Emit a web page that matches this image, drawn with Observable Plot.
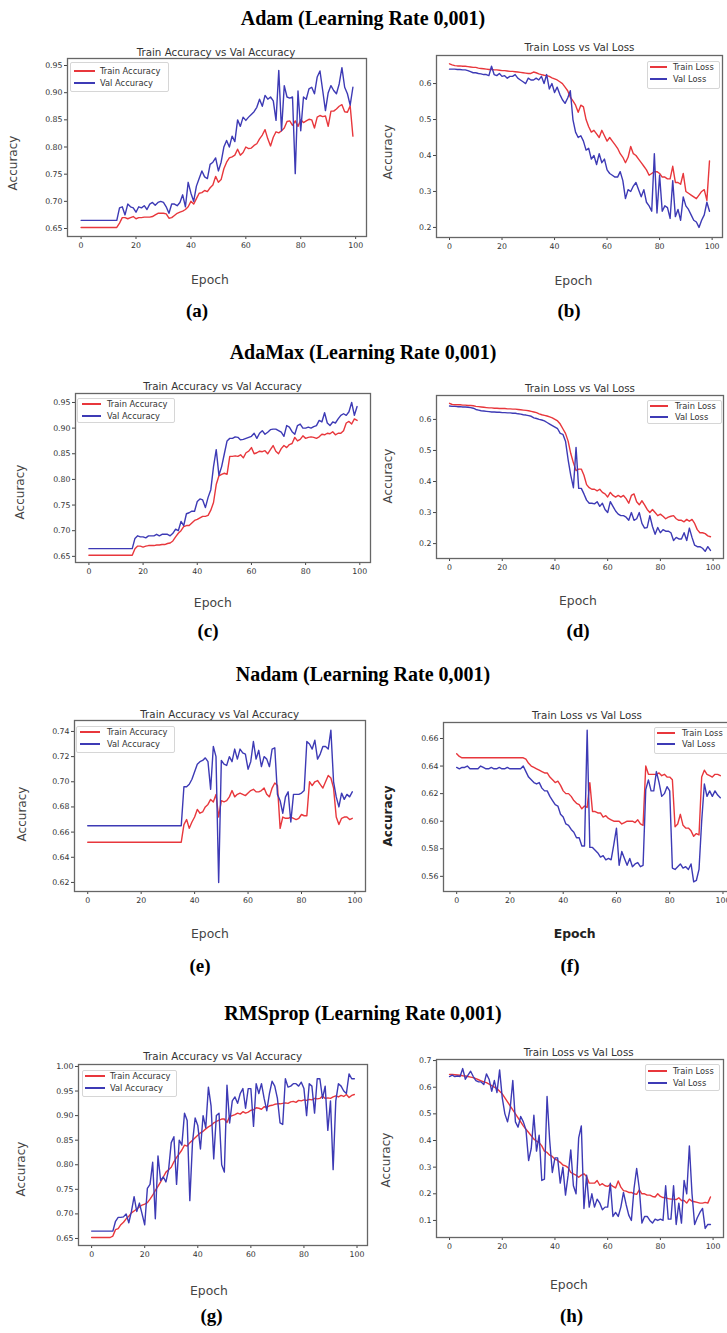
<!DOCTYPE html>
<html><head><meta charset="utf-8">
<script src="https://cdn.jsdelivr.net/npm/d3@7"></script>
<script src="https://cdn.jsdelivr.net/npm/@observablehq/plot@0.6"></script>
<style>
body{margin:0;background:#fff;}
#page{position:relative;width:727px;height:1333px;overflow:hidden;background:#fff;}
.t{position:absolute;white-space:nowrap;transform:translate(-50%,-50%);line-height:1;}
.head{font-family:"Liberation Serif","Times New Roman",serif;font-weight:bold;font-size:20px;color:#000;}
.sub{font-size:19px;}
.ctitle{font-family:"DejaVu Sans",sans-serif;font-size:10.3px;color:#333;}
.alab{font-family:"DejaVu Sans",sans-serif;font-size:12px;color:#444;}
.ylab{transform:translate(-50%,-50%) rotate(-90deg);}
.boldlab{font-weight:bold;color:#222;}
.legbox{position:absolute;border:1px solid #d6d6d6;border-radius:2px;background:rgba(255,255,255,0.85);}
.legline{position:absolute;height:2px;}
.legtxt{position:absolute;white-space:nowrap;font-family:"DejaVu Sans",sans-serif;font-size:8.3px;color:#333;transform:translateY(-50%);line-height:1;}
</style></head>
<body><div id="page"></div>
<script>
// ---- data (epochs 0..99) ----
const adamTrainAcc = [
.652,.652,.652,.652,.652,.652,.652,.652,.652,.652,
.652,.652,.652,.652,.660,.670,.670,.668,.670,.672,
.668,.670,.670,.671,.671,.671,.672,.675,.678,.678,
.678,.677,.669,.670,.674,.678,.680,.682,.685,.690,
.700,.695,.705,.715,.716,.720,.718,.725,.730,.746,
.735,.740,.760,.772,.780,.782,.785,.796,.785,.790,
.800,.797,.798,.803,.806,.815,.822,.832,.815,.802,
.818,.828,.826,.830,.835,.847,.848,.840,.848,.838,
.850,.845,.848,.851,.850,.835,.855,.858,.856,.857,
.838,.866,.866,.870,.875,.878,.865,.864,.876,.820];
const adamValAcc = [
.665,.665,.665,.665,.665,.665,.665,.665,.665,.665,
.665,.665,.665,.665,.688,.690,.675,.695,.690,.688,
.680,.690,.688,.692,.685,.695,.698,.693,.698,.700,
.698,.690,.678,.695,.695,.692,.698,.712,.690,.735,
.715,.700,.728,.742,.756,.745,.742,.768,.772,.780,
.756,.772,.800,.812,.800,.820,.810,.850,.838,.855,
.849,.855,.860,.865,.873,.888,.875,.895,.888,.892,
.885,.849,.941,.830,.913,.892,.890,.892,.751,.903,
.830,.892,.888,.907,.910,.898,.929,.940,.904,.867,
.900,.913,.904,.898,.916,.946,.910,.898,.877,.910];
const adamTrainLoss = [
.655,.652,.650,.649,.649,.648,.648,.647,.646,.645,
.645,.643,.642,.641,.640,.639,.639,.638,.638,.637,
.636,.636,.635,.634,.634,.633,.632,.631,.630,.629,
.628,.628,.632,.630,.627,.625,.623,.622,.620,.616,
.613,.610,.605,.600,.590,.580,.562,.552,.540,.520,
.540,.535,.500,.480,.465,.470,.460,.450,.470,.455,
.440,.450,.440,.430,.420,.405,.395,.380,.395,.425,
.405,.400,.390,.380,.370,.360,.345,.350,.355,.355,
.350,.340,.340,.335,.335,.370,.325,.325,.320,.350,
.300,.295,.290,.285,.280,.290,.300,.305,.275,.385];
const adamValLoss = [
.640,.640,.640,.639,.639,.638,.638,.636,.633,.630,
.630,.628,.627,.625,.625,.622,.648,.625,.622,.628,
.620,.622,.615,.620,.620,.625,.615,.610,.605,.600,
.615,.610,.610,.615,.610,.620,.600,.625,.585,.600,
.575,.590,.570,.555,.545,.560,.580,.500,.465,.450,
.455,.440,.415,.420,.390,.400,.375,.405,.380,.390,
.360,.350,.345,.340,.340,.355,.330,.280,.305,.300,
.315,.325,.305,.285,.305,.270,.260,.245,.405,.240,
.345,.245,.260,.255,.225,.330,.230,.250,.220,.285,
.260,.250,.235,.220,.215,.200,.220,.235,.270,.245];

const adamaxTrainAcc = [
.652,.652,.652,.652,.652,.652,.652,.652,.652,.652,
.652,.652,.652,.652,.652,.652,.652,.665,.670,.670,
.668,.670,.671,.671,.671,.672,.672,.673,.673,.675,
.676,.680,.688,.695,.700,.708,.710,.710,.715,.720,
.722,.725,.728,.728,.730,.740,.755,.790,.807,.810,
.812,.810,.845,.845,.846,.845,.848,.842,.852,.855,
.862,.850,.852,.855,.854,.856,.850,.858,.866,.855,
.850,.860,.866,.862,.868,.870,.882,.875,.878,.885,
.880,.882,.883,.882,.880,.883,.888,.887,.890,.889,
.893,.887,.890,.890,.895,.910,.913,.908,.918,.915];
const adamaxValAcc = [
.665,.665,.665,.665,.665,.665,.665,.665,.665,.665,
.665,.665,.665,.665,.665,.665,.665,.685,.690,.688,
.688,.686,.690,.690,.690,.693,.690,.693,.693,.693,
.690,.695,.703,.700,.718,.710,.733,.735,.738,.738,
.757,.762,.760,.745,.765,.780,.825,.858,.808,.825,
.850,.875,.880,.880,.883,.882,.877,.878,.880,.882,
.884,.890,.880,.890,.895,.888,.892,.897,.898,.898,
.895,.892,.884,.905,.902,.893,.888,.905,.908,.900,
.900,.902,.900,.903,.905,.915,.912,.930,.910,.905,
.912,.910,.918,.925,.928,.925,.932,.950,.925,.942];
const adamaxTrainLoss = [
.652,.648,.647,.647,.647,.646,.646,.645,.645,.644,
.642,.641,.640,.639,.638,.637,.637,.636,.636,.635,
.635,.635,.634,.634,.633,.633,.632,.631,.630,.629,
.628,.626,.624,.622,.618,.615,.613,.611,.608,.605,
.600,.595,.585,.570,.555,.530,.490,.460,.435,.440,
.440,.420,.390,.380,.375,.375,.370,.375,.365,.360,
.350,.365,.355,.350,.355,.350,.355,.345,.330,.355,
.360,.335,.325,.338,.325,.310,.300,.310,.300,.290,
.295,.288,.280,.285,.288,.290,.280,.275,.275,.270,
.278,.272,.278,.265,.245,.235,.235,.232,.225,.222];
const adamaxValLoss = [
.643,.642,.642,.641,.641,.640,.640,.639,.638,.636,
.632,.630,.628,.627,.626,.625,.624,.624,.623,.623,
.622,.622,.621,.621,.620,.620,.618,.617,.615,.614,
.612,.610,.605,.603,.600,.598,.595,.590,.585,.580,
.575,.570,.555,.552,.530,.470,.420,.380,.510,.378,
.378,.360,.340,.330,.330,.328,.335,.320,.330,.310,
.300,.335,.320,.305,.295,.290,.290,.285,.275,.300,
.275,.280,.300,.265,.250,.252,.290,.255,.230,.252,
.235,.245,.240,.240,.235,.210,.220,.215,.215,.235,
.210,.250,.220,.195,.190,.190,.185,.175,.190,.178];

const nadamTrainAcc = [
.652,.652,.652,.652,.652,.652,.652,.652,.652,.652,
.652,.652,.652,.652,.652,.652,.652,.652,.652,.652,
.652,.652,.652,.652,.652,.652,.652,.652,.652,.652,
.652,.652,.652,.652,.652,.652,.666,.670,.663,.668,
.672,.678,.675,.676,.680,.682,.686,.684,.690,.672,
.685,.684,.685,.688,.693,.688,.690,.691,.690,.689,
.691,.693,.694,.692,.692,.693,.695,.690,.688,.695,
.699,.697,.663,.672,.671,.671,.672,.671,.670,.671,
.674,.673,.673,.700,.697,.700,.701,.698,.695,.700,
.705,.703,.695,.672,.666,.671,.672,.672,.670,.671];
const nadamValAcc = [
.665,.665,.665,.665,.665,.665,.665,.665,.665,.665,
.665,.665,.665,.665,.665,.665,.665,.665,.665,.665,
.665,.665,.665,.665,.665,.665,.665,.665,.665,.665,
.665,.665,.665,.665,.665,.665,.696,.696,.698,.702,
.708,.714,.716,.717,.719,.716,.694,.728,.720,.620,
.717,.714,.713,.720,.716,.726,.718,.726,.723,.722,
.710,.716,.732,.718,.725,.712,.720,.718,.712,.726,
.727,.690,.685,.675,.688,.692,.668,.690,.690,.690,
.691,.693,.732,.730,.726,.733,.718,.722,.728,.728,
.726,.741,.700,.688,.680,.691,.686,.690,.688,.692];
const nadamTrainLoss = [
.649,.647,.646,.646,.646,.646,.646,.646,.646,.646,
.646,.646,.646,.646,.646,.646,.646,.646,.646,.646,
.646,.646,.646,.646,.646,.646,.645,.642,.640,.639,
.638,.637,.636,.635,.635,.632,.630,.628,.629,.626,
.622,.620,.620,.618,.615,.613,.612,.609,.611,.610,
.628,.607,.607,.606,.606,.603,.604,.602,.601,.600,
.600,.600,.598,.599,.600,.600,.600,.599,.601,.598,
.597,.640,.634,.634,.634,.634,.635,.633,.634,.632,
.632,.630,.596,.598,.605,.597,.595,.595,.593,.589,
.591,.590,.632,.637,.634,.633,.632,.634,.634,.633];
const nadamValLoss = [
.639,.638,.639,.639,.640,.638,.638,.638,.638,.640,
.639,.638,.638,.639,.638,.638,.639,.638,.638,.639,
.638,.638,.638,.638,.638,.640,.636,.632,.630,.628,
.627,.628,.624,.622,.622,.618,.615,.612,.611,.605,
.603,.598,.597,.594,.592,.588,.588,.582,.582,.666,
.581,.581,.579,.577,.574,.575,.572,.573,.572,.583,
.595,.568,.578,.573,.568,.573,.567,.569,.570,.567,
.568,.623,.630,.622,.622,.636,.628,.618,.620,.625,
.622,.566,.565,.567,.569,.566,.567,.565,.569,.556,
.557,.565,.600,.627,.618,.622,.618,.622,.619,.617];

const rmspropTrainAcc = [
.652,.652,.652,.652,.652,.652,.652,.652,.655,.668,
.670,.678,.683,.690,.695,.702,.706,.710,.714,.718,
.720,.723,.730,.738,.748,.756,.765,.775,.785,.790,
.795,.806,.815,.822,.830,.840,.838,.845,.850,.855,
.860,.865,.868,.873,.877,.880,.885,.888,.891,.893,
.893,.886,.898,.900,.902,.905,.903,.908,.905,.907,
.911,.912,.916,.915,.913,.918,.917,.920,.921,.923,
.924,.924,.925,.926,.925,.928,.929,.927,.931,.930,
.932,.931,.933,.932,.935,.934,.935,.940,.935,.936,
.935,.938,.940,.938,.941,.939,.943,.937,.941,.943];
const rmspropValAcc = [
.665,.665,.665,.665,.665,.665,.665,.665,.665,.685,
.693,.693,.694,.700,.682,.705,.735,.705,.722,.700,
.678,.752,.760,.805,.690,.818,.768,.775,.765,.790,
.845,.857,.760,.850,.840,.905,.890,.727,.845,.895,
.880,.832,.900,.875,.958,.920,.812,.900,.905,.800,
.785,.962,.885,.930,.938,.925,.945,.955,.915,.955,
.955,.878,.965,.945,.965,.935,.910,.945,.970,.960,
.935,.885,.882,.975,.958,.960,.965,.965,.960,.968,
.955,.900,.965,.960,.905,.975,.975,.935,.960,.870,
.930,.790,.930,.965,.960,.950,.945,.985,.975,.975];
const rmspropTrainLoss = [
.648,.648,.647,.646,.645,.643,.642,.640,.638,.636,
.632,.628,.624,.620,.617,.612,.606,.600,.595,.585,
.575,.560,.545,.530,.515,.500,.485,.470,.455,.442,
.430,.418,.405,.398,.392,.380,.360,.355,.345,.340,
.330,.325,.318,.308,.305,.298,.280,.275,.270,.262,
.270,.275,.265,.240,.240,.240,.250,.232,.238,.230,
.228,.235,.228,.222,.248,.225,.212,.210,.205,.205,
.200,.198,.215,.200,.200,.195,.195,.190,.188,.200,
.190,.186,.185,.182,.180,.180,.178,.185,.175,.175,
.165,.180,.172,.170,.168,.165,.165,.168,.165,.188];
const rmspropValLoss = [
.640,.645,.640,.642,.640,.670,.630,.645,.660,.640,
.625,.620,.620,.610,.650,.630,.585,.625,.580,.665,
.560,.500,.470,.520,.625,.470,.450,.490,.470,.440,
.325,.370,.495,.360,.420,.250,.255,.565,.400,.280,
.335,.335,.240,.300,.195,.270,.365,.230,.200,.410,
.455,.145,.270,.150,.200,.150,.180,.165,.140,.150,
.150,.240,.115,.130,.115,.150,.205,.160,.120,.100,
.220,.295,.220,.090,.115,.115,.100,.090,.105,.100,
.105,.100,.230,.105,.105,.230,.085,.165,.090,.250,
.200,.380,.200,.085,.110,.130,.145,.070,.085,.085];

const xTicks = [0, 20, 40, 60, 80, 100];
const accTicks = [0.65, 0.70, 0.75, 0.80, 0.85, 0.90, 0.95];
const lossTicks = [0.2, 0.3, 0.4, 0.5, 0.6];
const nadamAccTicks = [0.62, 0.64, 0.66, 0.68, 0.70, 0.72, 0.74];
const nadamLossTicks = [0.56, 0.58, 0.60, 0.62, 0.64, 0.66];
const rmsAccTicks = [0.65, 0.70, 0.75, 0.80, 0.85, 0.90, 0.95, 1.00];
const rmsLossTicks = [0.1, 0.2, 0.3, 0.4, 0.5, 0.6, 0.7];

const headings = ["Adam (Learning Rate 0,001)", "AdaMax (Learning Rate 0,001)", "Nadam (Learning Rate 0,001)", "RMSprop (Learning Rate 0,001)"];
const accTitle = "Train Accuracy vs Val Accuracy";
const lossTitle = "Train Loss vs Val Loss";
const accLegend = ["Train Accuracy", "Val Accuracy"];
const lossLegend = ["Train Loss", "Val Loss"];

const RED = "#e8373c", BLUE = "#3d3ab5";
const epochs = d3.range(100);

// ---- layout ----
const panels = [
 {sub:"(a)", train:adamTrainAcc, val:adamValAcc, title:accTitle, leg:accLegend, ticks:accTicks, fmt:".2f",
  frame:[67,58,366,236], yd:[0.6353,0.9629], tpos:[216,52], ylab:[12.5,163], xlab:[210,280], slab:[197,310],
  lbox:[70,62,167,90], lline:[74,95], ltext:100, lrows:[71,83]},
 {sub:"(b)", train:adamTrainLoss, val:adamValLoss, title:lossTitle, leg:lossLegend, ticks:lossTicks, fmt:".1f",
  frame:[436,55,722,237], yd:[0.172,0.678], tpos:[579.5,47], ylab:[387.5,152], xlab:[573.5,280.5], slab:[569,310],
  lbox:[647,61,718,87], lline:[650,667], ltext:673, lrows:[67,79]},
 {sub:"(c)", train:adamaxTrainAcc, val:adamaxValAcc, title:accTitle, leg:accLegend, ticks:accTicks, fmt:".2f",
  frame:[75,393,370,562], yd:[0.638,0.9675], tpos:[222.5,386], ylab:[20,492], xlab:[212.8,602.7], slab:[208,630],
  lbox:[77,398,173,421], lline:[82,101], ltext:107, lrows:[404,416]},
 {sub:"(d)", train:adamaxTrainLoss, val:adamaxValLoss, title:lossTitle, leg:lossLegend, ticks:lossTicks, fmt:".1f",
  frame:[436,395,723,558], yd:[0.152,0.677], tpos:[580,388], ylab:[387.5,476], xlab:[578,601], slab:[578,630],
  lbox:[647,400,720,422], lline:[650,668], ltext:675, lrows:[406,417]},
 {sub:"(e)", train:nadamTrainAcc, val:nadamValAcc, title:accTitle, leg:accLegend, ticks:nadamAccTicks, fmt:".2f",
  frame:[74,720,365,891], yd:[0.6128,0.7487], tpos:[219.7,714], ylab:[21.7,814], xlab:[210,934], slab:[200,965],
  lbox:[76,726,173,751], lline:[80,100], ltext:107, lrows:[732,744]},
 {sub:"(f)", train:nadamTrainLoss, val:nadamValLoss, title:lossTitle, leg:lossLegend, ticks:nadamLossTicks, fmt:".2f", bold:true,
  frame:[443,722,733,891], yd:[0.549,0.6716], tpos:[587,715], ylab:[388,816], xlab:[574.7,934], slab:[570,965],
  lbox:[654,727,740,752], lline:[657,675], ltext:682, lrows:[733,744]},
 {sub:"(g)", train:rmspropTrainAcc, val:rmspropValAcc, title:accTitle, leg:accLegend, ticks:rmsAccTicks, fmt:".2f",
  frame:[78,1064,367,1245], yd:[0.6357,1.004], tpos:[222.7,1056], ylab:[21.3,1169], xlab:[209,1290.7], slab:[211.5,1315],
  lbox:[82,1070,175,1095], lline:[85,105], ltext:110, lrows:[1076,1088]},
 {sub:"(h)", train:rmspropTrainLoss, val:rmspropValLoss, title:lossTitle, leg:lossLegend, ticks:rmsLossTicks, fmt:".1f",
  frame:[436,1059,723,1237], yd:[0.036,0.704], tpos:[578.7,1052], ylab:[386,1160], xlab:[569,1285], slab:[571.5,1315],
  lbox:[645,1064,718,1089], lline:[648,667], ltext:673, lrows:[1071,1083]}
];
const headPos = [[363,18],[363,352],[363,674],[363,1013]];

const page = document.getElementById("page");
function addText(txt, cls, x, y){
  const d = document.createElement("div");
  d.className = "t " + cls; d.textContent = txt;
  d.style.left = x + "px"; d.style.top = y + "px";
  page.appendChild(d); return d;
}

headings.forEach((h,i) => addText(h, "head", headPos[i][0], headPos[i][1]));

const ML = 42, MT = 4, MR = 4, MB = 24;
panels.forEach(p => {
  const [fx0, fy0, fx1, fy1] = p.frame;
  const rows = epochs.map(e => ({epoch:e, train:p.train[e], val:p.val[e]}));
  const chart = Plot.plot({
    width: fx1 - fx0 + ML + MR,
    height: fy1 - fy0 + MT + MB,
    marginLeft: ML, marginTop: MT, marginRight: MR, marginBottom: MB,
    style: {fontFamily:"DejaVu Sans, sans-serif", fontSize:"7.8px", color:"#333", background:"transparent", overflow:"visible"},
    x: {domain:[-4.95, 103.95]},
    y: {domain:p.yd},
    marks: [
      Plot.axisX({ticks:xTicks, tickSize:3, tickPadding:2.5, label:null, stroke:"#444"}),
      Plot.axisY({ticks:p.ticks, tickFormat:d3.format(p.fmt), tickSize:3, tickPadding:2, label:null, stroke:"#444"}),
      Plot.line(rows, {x:"epoch", y:"train", stroke:RED, strokeWidth:1.4, clip:true}),
      Plot.line(rows, {x:"epoch", y:"val", stroke:BLUE, strokeWidth:1.4, clip:true}),
      Plot.frame({stroke:"#666", strokeWidth:1.3})
    ]
  });
  chart.style.position = "absolute";
  chart.style.left = (fx0 - ML) + "px";
  chart.style.top = (fy0 - MT) + "px";
  page.appendChild(chart);

  addText(p.title, "ctitle", p.tpos[0], p.tpos[1]);
  addText("Accuracy", "alab ylab" + (p.bold ? " boldlab" : ""), p.ylab[0], p.ylab[1]);
  addText("Epoch", "alab" + (p.bold ? " boldlab" : ""), p.xlab[0], p.xlab[1]).style.fontSize = "12.4px";
  addText(p.sub, "head sub", p.slab[0], p.slab[1]);

  // legend
  const b = document.createElement("div");
  b.className = "legbox";
  b.style.left = p.lbox[0] + "px"; b.style.top = p.lbox[1] + "px";
  b.style.width = (p.lbox[2] - p.lbox[0]) + "px"; b.style.height = (p.lbox[3] - p.lbox[1]) + "px";
  page.appendChild(b);
  [RED, BLUE].forEach((c, i) => {
    const l = document.createElement("div");
    l.className = "legline";
    l.style.background = c;
    l.style.left = p.lline[0] + "px"; l.style.width = (p.lline[1] - p.lline[0]) + "px";
    l.style.top = (p.lrows[i] - 1) + "px";
    page.appendChild(l);
    const t = document.createElement("div");
    t.className = "legtxt"; t.textContent = p.leg[i];
    t.style.left = p.ltext + "px"; t.style.top = p.lrows[i] + "px";
    page.appendChild(t);
  });
});
</script>
</body></html>
